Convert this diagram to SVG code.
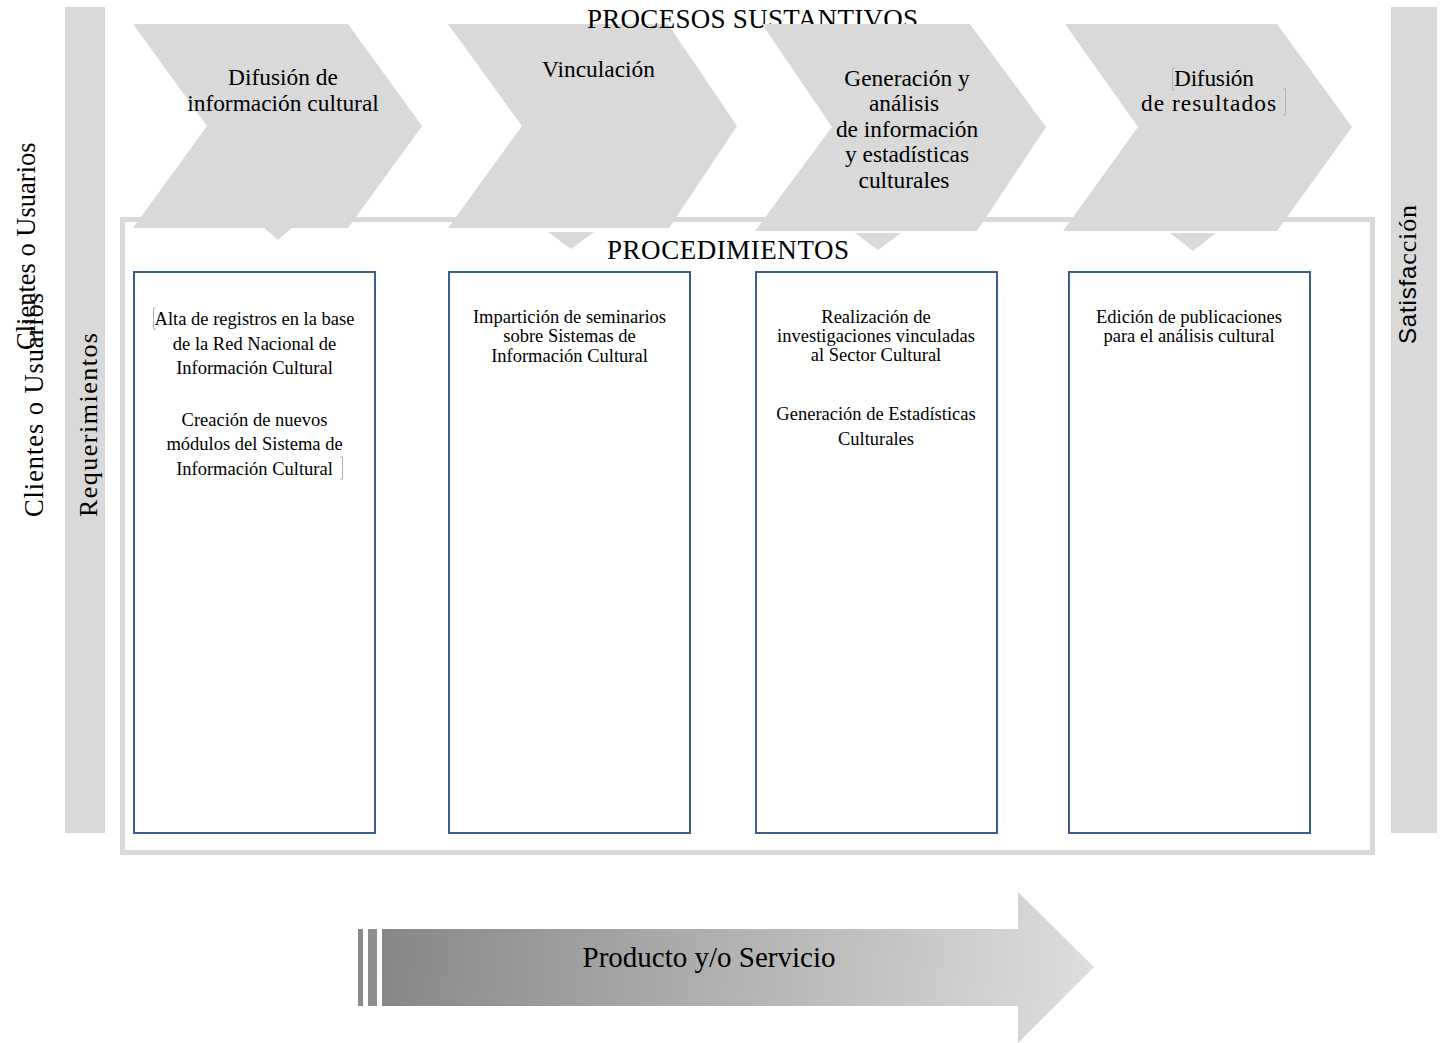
<svg xmlns="http://www.w3.org/2000/svg" width="1444" height="1043" viewBox="0 0 1444 1043">
<style>
.bar{fill:#d9d9d9}
.chev{fill:#d9d9d9}
.frame{fill:none;stroke:#d9d9d9;stroke-width:5}
.box{fill:#ffffff;stroke:#3a5f8f;stroke-width:2}
.pal{font-family:"Liberation Serif","Times New Roman",serif;fill:#000}
.ct{font-size:23.4px;text-anchor:middle}
.bt{font-family:"Liberation Serif","Times New Roman",serif;font-size:18.5px;text-anchor:middle;fill:#000}
.mark{fill:none;stroke:#b0b0b0;stroke-width:1}
</style>
<defs>
<linearGradient id="arrowGrad" gradientUnits="userSpaceOnUse" x1="358" y1="930" x2="1094" y2="1000">
<stop offset="0" stop-color="#848484"/>
<stop offset="1" stop-color="#dedede"/>
</linearGradient>
</defs>

<g id="side-left">
<rect class="bar" x="65" y="7" width="40" height="826"/>
<text class="pal" font-size="26.5" transform="translate(35,350) rotate(-90)">Clientes o Usuarios</text>
<text class="pal" font-size="26.5" textLength="224" transform="translate(43,517) rotate(-90)">Clientes o Usuarios</text>
<text class="pal" font-size="26" textLength="184" transform="translate(97,517) rotate(-90)">Requerimientos</text>
</g>

<g id="side-right">
<rect class="bar" x="1391" y="7" width="46" height="826"/>
<text transform="translate(1416,344) rotate(-90)" font-size="24" textLength="139"><tspan font-family="'Liberation Sans',Arial,sans-serif" fill="#000">Satisfa</tspan><tspan font-family="'Liberation Serif','Times New Roman',serif" font-size="26" fill="#000">cción</tspan></text>
</g>

<g id="procedimientos-frame">
<rect class="frame" x="122.5" y="219.5" width="1250" height="633"/>
</g>

<g id="chevron-1">
<polygon class="chev" points="133,24 348,24 422,126 348,228 133,228 207,126"/>
<polygon class="chev" points="263,227 293,227 278,240"/>
<text class="pal ct" x="283" y="85">Difusión de</text>
<text class="pal ct" x="283" y="111">información cultural</text>
</g>

<g id="chevron-2">
<polygon class="chev" points="448,24 668,24 737,126 669,228 448,228 522,126"/>
<polygon class="chev" points="548,232 594,232 571,249"/>
<text class="pal ct" x="598.5" y="77">Vinculación</text>
</g>

<text id="title-procesos" class="pal" font-size="27" x="587" y="28" textLength="331">PROCESOS SUSTANTIVOS</text>

<g id="chevron-3">
<polygon class="chev" points="762,24 970,24 1046,127 977,231 755,231 832,127"/>
<polygon class="chev" points="855,233 901,233 878,250"/>
<text class="pal ct" x="907" y="86">Generación y</text>
<text class="pal ct" x="904" y="111">análisis</text>
<text class="pal ct" x="907" y="137">de información</text>
<text class="pal ct" x="907" y="162">y estadísticas</text>
<text class="pal ct" x="904" y="188">culturales</text>
</g>

<g id="chevron-4">
<polygon class="chev" points="1065,24 1277,24 1352,127 1277,231 1063,231 1138,127"/>
<polygon class="chev" points="1170,233 1216,233 1193,251"/>
<text class="pal" font-size="23.4" x="1174" y="86" textLength="80">Difusión</text>
<text class="pal" font-size="23.4" x="1141" y="111" textLength="135">de resultados</text>
<path class="mark" d="M1175,68 H1172.5 V90 H1175"/>
<path class="mark" d="M1283,89 H1285.5 V115 H1283"/>
</g>

<text id="title-procedimientos" class="pal" font-size="27" x="607" y="259" textLength="242">PROCEDIMIENTOS</text>

<g id="box-1">
<rect class="box" x="134" y="272" width="241" height="561"/>
<text class="bt" x="254.5" y="325">Alta de registros en la base</text>
<text class="bt" x="254.5" y="350">de la Red Nacional de</text>
<text class="bt" x="254.5" y="374">Información Cultural</text>
<text class="bt" x="254.5" y="426">Creación de nuevos</text>
<text class="bt" x="254.5" y="450">módulos del Sistema de</text>
<text class="bt" x="254.5" y="475">Información Cultural</text>
<path class="mark" d="M156,308 H153.5 V329 H156"/>
<path class="mark" d="M340,457 H342.5 V479 H340"/>
</g>

<g id="box-2">
<rect class="box" x="449" y="272" width="241" height="561"/>
<text class="bt" x="569.5" y="323">Impartición de seminarios</text>
<text class="bt" x="569.5" y="342">sobre Sistemas de</text>
<text class="bt" x="569.5" y="362">Información Cultural</text>
</g>

<g id="box-3">
<rect class="box" x="756" y="272" width="241" height="561"/>
<text class="bt" x="876" y="323">Realización de</text>
<text class="bt" x="876" y="342">investigaciones vinculadas</text>
<text class="bt" x="876" y="361">al Sector Cultural</text>
<text class="bt" x="876" y="420">Generación de Estadísticas</text>
<text class="bt" x="876" y="445">Culturales</text>
</g>

<g id="box-4">
<rect class="box" x="1069" y="272" width="241" height="561"/>
<text class="bt" x="1189" y="323">Edición de publicaciones</text>
<text class="bt" x="1189" y="342">para el análisis cultural</text>
</g>

<g id="product-arrow">
<rect x="358" y="929" width="5" height="77" fill="#8a8a8a"/>
<rect x="368" y="929" width="9" height="77" fill="#8e8e8e"/>
<polygon points="382,929 1018,929 1018,892 1094,967 1018,1043 1018,1006 382,1006" fill="url(#arrowGrad)"/>
<text class="pal" font-size="29" x="709" y="967" text-anchor="middle">Producto y/o Servicio</text>
</g>

<g id="connectors"></g>
</svg>
